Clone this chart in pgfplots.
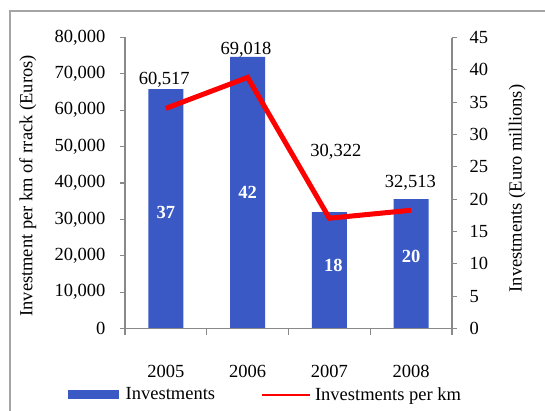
\documentclass[border=0pt]{standalone}
\usepackage{pgfplots}
\pgfplotsset{compat=1.18}
\usepackage{fontspec}
\setmainfont{Liberation Serif}
\definecolor{barblue}{RGB}{59,89,196}
\definecolor{axgray}{RGB}{137,137,137}
\definecolor{framegray}{RGB}{165,165,165}
\begin{document}
\begin{tikzpicture}[x=1bp,y=1bp]
\useasboundingbox (0,0) rectangle (545,410);
\draw[framegray, line width=1.5bp] (10,-10) |- (560,399);
\pgfplotsset{
  base/.style={
    at={(125bp,81.5bp)}, anchor=south west, width=327bp, height=291bp, scale only axis,
    xmin=-0.5, xmax=3.5, font=\fontsize{18.5bp}{21bp}\selectfont,
    /pgf/number format/assume math mode=true,
    axis line style={axgray, line width=1.2bp},
    tick style={axgray, line width=1.2bp},
    major tick length=5bp,
    minor tick length=6bp,
    tick align=outside,
    clip=false,
  }
}
\begin{axis}[base, axis y line*=right, axis x line=none, ymin=0, ymax=45, ytick={0,5,...,45},
  ylabel={Investments (Euro millions)},
  ylabel style={at={(axis description cs:1.199,0.481)}, anchor=center},
  yticklabel style={xshift=9bp}]
\addplot[ybar, bar width=35bp, fill=barblue, draw=none] coordinates {(0,37) (1,42) (2,18) (3,20)};
\node[white, font=\fontsize{18.5bp}{21bp}\selectfont\bfseries] at (axis cs:0,18) {37};
\node[white, font=\fontsize{18.5bp}{21bp}\selectfont\bfseries] at (axis cs:1,21) {42};
\node[white, font=\fontsize{18.5bp}{21bp}\selectfont\bfseries] at (axis cs:2.05,9.7) {18};
\node[white, font=\fontsize{18.5bp}{21bp}\selectfont\bfseries] at (axis cs:3,11.2) {20};
\end{axis}
\begin{axis}[base, axis y line*=left, axis x line*=bottom, ymin=0, ymax=80000,
  ytick={0,10000,...,80000}, scaled y ticks=false,
  /pgf/number format/fixed, /pgf/number format/1000 sep={,},
  yticklabel style={xshift=-11bp},
  xtick={0,1,2,3}, xticklabels={2005,2006,2007,2008},
  major x tick style={draw=none},
  minor xtick={-0.5,0.5,1.5,2.5,3.5},
  xticklabel style={yshift=-28bp},
  ylabel={Investment per km of rrack (Euros)},
  ylabel style={at={(axis description cs:-0.297,0.49)}, anchor=center},
  legend columns=2,
  legend style={at={(axis description cs:-0.185,-0.227)}, anchor=west, draw=none, fill=none,
    font=\fontsize{18.5bp}{21bp}\selectfont,
    /tikz/every even column/.append style={column sep=44bp}},
  ]
\addlegendimage{draw=none, legend image code/.code={\fill[barblue, draw=none] (0bp,-4.5bp) rectangle (51bp,4.5bp); \path[draw=none, fill=none] (0bp,0bp) -- (56bp,0bp);}}
\addlegendentry{Investments}
\addplot[red, line width=5bp, mark=none,
  legend image code/.code={\draw[red, line width=2bp] (0bp,0bp) -- (48bp,0bp); \path[draw=none, fill=none] (0bp,0bp) -- (51bp,0bp);}]
  coordinates {(0,60517) (1,69018) (2,30322) (3,32513)};
\addlegendentry{Investments per km}
\node at (axis cs:-0.02,68300) {60,517};
\node at (axis cs:0.98,76560) {69,018};
\node at (axis cs:2.08,48520) {30,322};
\node at (axis cs:2.99,40000) {32,513};
\end{axis}
\end{tikzpicture}
\end{document}
